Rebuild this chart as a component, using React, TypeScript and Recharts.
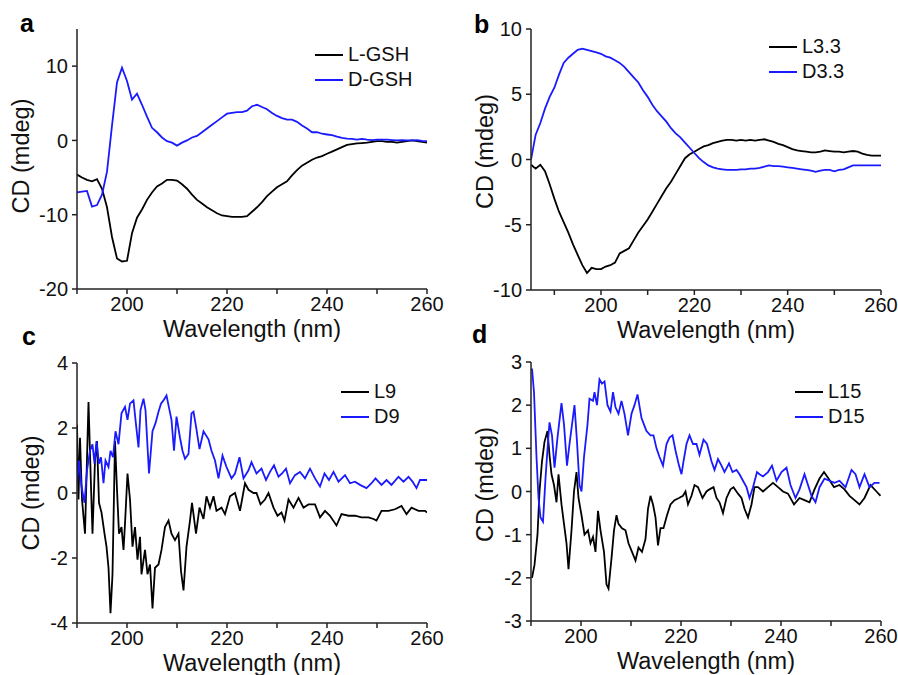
import React from 'react';
import { LineChart, Line, XAxis, YAxis, Legend } from 'recharts';

const FONT = '"Liberation Sans", Arial, Helvetica, sans-serif';
const BLACK = '#000000';
const BLUE = '#1a1aff';
const AXIS = '#222222';

// panel a: L-GSH / D-GSH, 1 nm steps 190-260
const aWave = Array.from({ length: 71 }, (_, i) => 190 + i);
const aL = [
  -4.6, -5.0, -5.3, -5.5, -5.2, -6.5, -9.0, -13.0, -15.9, -16.3,
  -16.2, -12.5, -10.4, -9.3, -8.0, -7.0, -6.2, -5.8, -5.3, -5.3,
  -5.4, -5.9, -6.5, -7.3, -8.0, -8.5, -9.0, -9.4, -9.8, -10.1,
  -10.2, -10.3, -10.3, -10.3, -10.2, -9.6, -9.0, -8.3, -7.5, -6.9,
  -6.3, -5.9, -5.5, -4.7, -4.0, -3.4, -3.0, -2.6, -2.3, -2.1,
  -1.8, -1.5, -1.2, -0.9, -0.6, -0.5, -0.4, -0.35, -0.3, -0.2,
  -0.1, -0.1, -0.2, -0.2, -0.3, -0.2, -0.1, 0, -0.1, -0.2, -0.3,
];
const aD = [
  -7.0, -6.9, -6.8, -8.9, -8.7, -7.3, -4.2, 2.0, 7.8, 9.8,
  8.0, 5.5, 6.3, 4.8, 3.2, 1.7, 1.1, 0.4, -0.1, -0.3,
  -0.7, -0.3, 0, 0.4, 0.6, 1.1, 1.6, 2.1, 2.6, 3.1,
  3.6, 3.7, 3.8, 3.8, 4.0, 4.6, 4.8, 4.5, 4.2, 3.7,
  3.3, 3.0, 2.8, 2.8, 2.5, 2.0, 1.6, 1.1, 1.1, 0.9,
  0.8, 0.7, 0.5, 0.35, 0.25, 0.2, 0.1, 0.2, 0.1, 0.05,
  0.1, 0.1, 0.1, 0.05, 0, 0.05, 0, 0, 0.05, -0.05, -0.1,
];

// panel b: L3.3 / D3.3, 1 nm steps 185-260
const bWave = Array.from({ length: 76 }, (_, i) => 185 + i);
const bL = [
  -0.4, -0.7, -0.4, -0.9, -1.9, -3.0, -4.0, -4.8, -5.6, -6.5,
  -7.3, -8.1, -8.7, -8.3, -8.4, -8.4, -8.2, -8.1, -7.9, -7.2,
  -7.0, -6.8, -6.2, -5.6, -5.1, -4.6, -4.0, -3.4, -2.8, -2.2,
  -1.7, -1.1, -0.5, 0.1, 0.4, 0.6, 0.8, 1.0, 1.1, 1.25,
  1.35, 1.45, 1.5, 1.5, 1.45, 1.5, 1.45, 1.5, 1.45, 1.5,
  1.55, 1.45, 1.35, 1.2, 1.1, 0.95, 0.8, 0.7, 0.65, 0.6,
  0.55, 0.55, 0.6, 0.7, 0.65, 0.6, 0.6, 0.55, 0.6, 0.65,
  0.6, 0.45, 0.35, 0.3, 0.3, 0.3,
];
const bD = [
  0, 1.9, 2.8, 3.9, 4.8, 5.5, 6.5, 7.4, 7.8, 8.1,
  8.4, 8.5, 8.4, 8.3, 8.2, 8.1, 7.9, 7.8, 7.6, 7.4,
  7.1, 6.7, 6.3, 5.9, 5.3, 4.8, 4.2, 3.7, 3.3, 2.9,
  2.4, 2.0, 1.7, 1.3, 0.9, 0.5, 0.1, -0.2, -0.45, -0.6,
  -0.7, -0.75, -0.8, -0.8, -0.8, -0.75, -0.75, -0.7, -0.7, -0.65,
  -0.55, -0.45, -0.5, -0.5, -0.55, -0.6, -0.65, -0.7, -0.75, -0.8,
  -0.85, -0.95, -0.85, -0.8, -0.8, -0.9, -0.8, -0.75, -0.6, -0.45,
  -0.45, -0.45, -0.45, -0.45, -0.45, -0.45,
];

// panel c: L9 / D9, [nm, mdeg]
const cL: [number, number][] = [
  [190.0, 2.1], [190.3, -0.2], [190.6, 1.7], [191.0, -0.2], [191.6, -1.25], [192.3, 2.8],
  [192.8, 0.2], [193.1, -1.25], [193.6, 1.0], [194.0, 1.6], [194.4, -0.3], [194.9, -0.6],
  [195.5, -1.25], [195.9, -1.65], [196.3, -2.3], [196.7, -3.7], [197.1, -2.5], [197.6, 1.6],
  [198.0, 0.1], [198.4, -1.25], [198.9, -1.05], [199.3, -1.75], [199.6, -0.95], [200.1, 0.6],
  [200.6, -0.2], [201.1, -1.65], [201.6, -1.05], [202.1, -2.05], [202.6, -1.35], [202.9, -2.5],
  [203.6, -1.75], [204.1, -2.5], [204.6, -2.2], [205.1, -3.55], [205.6, -2.3], [206.3, -2.2],
  [206.9, -1.75], [207.6, -1.05], [208.3, -0.85], [208.9, -1.25], [209.6, -1.45], [210.3, -1.25],
  [210.8, -2.4], [211.3, -3.0], [211.9, -1.65], [212.6, -0.85], [213.0, -0.3], [213.8, -1.25],
  [214.5, -0.45], [215.3, -0.8], [215.9, -0.1], [216.6, -0.45], [217.3, -0.1], [217.9, -0.55],
  [218.9, -0.45], [219.6, -0.65], [220.6, -0.1], [221.6, 0], [222.6, -0.55], [223.6, 0.3],
  [224.3, 0.1], [225.3, 0], [225.9, 0], [226.7, -0.35], [227.6, -0.2], [228.3, 0],
  [229.3, -0.45], [230.1, -0.7], [230.9, -0.6], [231.5, -0.85], [232.3, -0.2], [233.3, -0.45],
  [234.3, -0.15], [235.3, -0.45], [236.3, -0.35], [237.6, -0.35], [238.6, -0.75], [239.6, -0.55],
  [240.6, -0.7], [241.9, -1.0], [242.9, -0.65], [244.3, -0.7], [245.6, -0.7], [246.9, -0.75],
  [248.3, -0.75], [249.3, -0.8], [249.9, -0.85], [250.9, -0.55], [252.3, -0.55], [253.6, -0.5],
  [254.9, -0.4], [255.9, -0.65], [256.9, -0.45], [258.3, -0.55], [259.6, -0.55], [260.0, -0.6],
];
const cD: [number, number][] = [
  [190.0, 0.3], [190.4, 1.0], [190.9, 0.2], [191.5, -0.3], [192.0, 0.7], [192.6, 1.3],
  [193.1, 1.5], [193.5, 0.9], [193.9, 1.6], [194.4, 0.9], [194.8, 1.1], [195.3, 0.3],
  [195.7, 1.0], [196.3, 0.8], [196.7, 1.3], [197.2, 1.1], [197.7, 1.9], [198.3, 1.5],
  [198.9, 2.45], [199.6, 2.65], [200.1, 2.25], [200.6, 2.75], [201.3, 2.85], [201.7, 2.25],
  [202.3, 1.4], [202.7, 2.55], [203.3, 2.9], [203.7, 2.55], [204.4, 0.6], [205.1, 1.9],
  [205.7, 2.15], [206.3, 2.5], [206.8, 2.75], [207.3, 2.85], [207.9, 3.0], [208.5, 2.55],
  [208.9, 2.25], [209.4, 1.3], [209.9, 2.35], [210.6, 1.7], [211.1, 1.3], [211.6, 1.05],
  [212.3, 1.2], [212.9, 2.45], [213.3, 2.5], [213.8, 2.05], [214.5, 1.35], [215.3, 1.9],
  [216.3, 1.65], [216.9, 1.3], [217.6, 1.0], [218.3, 0.45], [219.1, 1.15], [219.9, 0.8],
  [220.9, 0.45], [221.6, 0.6], [222.5, 1.1], [223.3, 0.45], [224.3, 0.7], [224.9, 0.95],
  [225.9, 0.6], [226.9, 0.75], [227.8, 0.4], [228.6, 0.65], [229.4, 0.85], [230.3, 0.5],
  [231.0, 0.6], [231.8, 0.75], [232.6, 0.3], [233.6, 0.55], [234.6, 0.65], [235.6, 0.45],
  [236.6, 0.75], [237.6, 0.45], [238.6, 0.2], [239.5, 0.6], [240.4, 0.4], [241.3, 0.65],
  [242.3, 0.35], [243.6, 0.55], [244.6, 0.3], [245.6, 0.35], [246.6, 0.25], [247.9, 0.15],
  [248.9, 0.3], [249.7, 0.45], [250.9, 0.25], [251.9, 0.4], [252.9, 0.25], [254.3, 0.5],
  [255.3, 0.35], [256.3, 0.5], [257.1, 0.35], [257.9, 0.15], [258.6, 0.4], [259.6, 0.4],
  [260.0, 0.4],
];

// panel d: L15 / D15, [nm, mdeg]
const dL: [number, number][] = [
  [190.2, -2.0], [190.7, -1.7], [191.3, -1.0], [191.7, 0], [192.2, 0.7], [192.7, 1.15],
  [193.3, 1.4], [193.7, 0.85], [194.1, 0.4], [194.6, 0.15], [195.1, -0.25], [195.5, 0.4],
  [196.1, -0.3], [196.6, -0.75], [197.1, -1.2], [197.5, -1.8], [198.1, -0.9], [198.6, 0],
  [199.1, 0.45], [199.5, -0.15], [200.1, -0.55], [200.7, -1.0], [201.4, -0.9], [201.9, -1.2],
  [202.4, -1.05], [202.9, -1.4], [203.4, -0.45], [203.9, -0.9], [204.6, -1.4], [205.1, -2.15],
  [205.5, -2.25], [206.1, -1.55], [206.6, -0.9], [207.1, -0.55], [207.5, -0.75], [208.2, -0.85],
  [208.9, -0.9], [209.5, -1.2], [210.2, -1.4], [210.9, -1.6], [211.5, -1.3], [212.2, -1.4],
  [212.9, -1.1], [213.4, -0.4], [213.9, -0.1], [214.4, -0.3], [214.9, -0.6], [215.4, -1.25],
  [215.9, -0.85], [216.5, -0.85], [217.2, -0.55], [217.9, -0.3], [218.7, -0.2], [219.6, -0.15],
  [220.4, -0.1], [220.9, 0], [221.4, -0.3], [222.1, -0.1], [222.7, 0.15], [223.4, 0.1],
  [224.3, -0.15], [225.1, 0], [225.7, 0.05], [226.5, 0.1], [227.1, -0.15], [227.7, -0.25],
  [228.4, -0.5], [229.1, -0.15], [229.9, 0.05], [230.5, 0.1], [231.4, -0.05], [232.1, -0.15],
  [232.7, -0.4], [233.4, -0.6], [234.1, -0.3], [234.7, 0.1], [235.4, 0.1], [236.4, 0],
  [237.4, 0.1], [238.4, 0.2], [239.4, 0.1], [240.4, 0], [241.4, -0.05], [242.6, -0.3],
  [243.7, -0.15], [244.7, -0.2], [245.7, -0.25], [246.7, 0.05], [247.7, 0.3], [248.6, 0.45],
  [249.5, 0.3], [250.6, 0.1], [251.7, 0.15], [252.7, 0.05], [253.7, -0.1], [254.7, -0.2],
  [255.7, -0.3], [256.7, -0.15], [257.9, 0.15], [259.1, 0], [259.9, -0.1],
];
const dD: [number, number][] = [
  [190.2, 2.85], [190.6, 2.3], [191.1, 0.8], [191.5, -0.15], [191.9, -0.6], [192.4, -0.7],
  [192.9, 0.3], [193.4, 1.15], [193.7, 1.6], [194.2, 1.3], [194.7, 0.55], [195.3, 1.25],
  [196.1, 2.05], [196.6, 1.55], [197.2, 0.6], [197.7, 1.1], [198.7, 2.0], [199.2, 1.15],
  [199.7, 0.15], [200.1, 0], [200.6, 0.8], [201.3, 1.55], [201.7, 2.15], [202.4, 2.1],
  [202.7, 2.3], [203.2, 2.0], [203.7, 2.6], [204.2, 2.5], [204.7, 2.55], [205.3, 2.0],
  [205.9, 1.85], [206.4, 2.3], [206.9, 1.95], [207.5, 1.8], [208.1, 2.1], [208.7, 1.8],
  [209.4, 1.3], [210.1, 1.8], [210.7, 2.0], [211.3, 2.25], [212.1, 1.7], [212.6, 1.55],
  [213.1, 1.4], [213.9, 1.3], [214.5, 1.3], [215.1, 1.0], [215.7, 0.8], [216.4, 0.6],
  [217.1, 1.1], [217.7, 1.25], [218.3, 1.3], [218.9, 0.95], [219.6, 0.6], [220.1, 0.4],
  [220.5, 0.7], [221.1, 1.1], [221.7, 1.3], [222.4, 1.1], [223.1, 1.1], [223.7, 0.85],
  [224.5, 1.2], [225.2, 1.1], [226.1, 0.7], [226.7, 0.5], [227.4, 0.75], [228.1, 0.6],
  [228.7, 0.45], [229.6, 0.65], [230.3, 0.45], [231.1, 0.5], [231.7, 0.4], [232.4, 0.25],
  [233.1, 0.1], [233.7, -0.15], [234.4, 0.1], [235.2, 0.45], [235.7, 0.4], [236.4, 0.35],
  [237.4, 0.45], [238.2, 0.6], [239.1, 0.25], [240.1, 0.45], [241.1, 0.55], [241.9, 0.15],
  [242.9, -0.15], [243.7, 0.05], [244.7, 0.4], [245.4, 0.15], [246.1, -0.1], [246.9, -0.25],
  [247.7, 0.1], [248.7, 0.3], [249.7, 0.25], [250.7, 0.2], [251.7, 0.25], [252.9, 0.1],
  [254.1, 0.5], [254.9, 0.4], [255.7, 0.1], [256.7, 0.4], [257.7, 0.1], [258.7, 0.2],
  [259.7, 0.2],
];

type Pt = { x: number; y: number };
const fromGrid = (xs: number[], ys: number[]): Pt[] => xs.map((x, i) => ({ x, y: ys[i] }));
const fromPairs = (p: [number, number][]): Pt[] => p.map(([x, y]) => ({ x, y }));

interface Series {
  name: string;
  color: string;
  data: Pt[];
}

interface PanelProps {
  letter: string;
  left: number;
  top: number;
  height: number;
  margin: { top: number; right: number; bottom: number; left: number };
  yAxisWidth: number;
  xDomain: [number, number];
  xTicks: number[];
  yDomain: [number, number];
  yTicks: number[];
  yLabelOffset: number;
  yLabelDy: number;
  legendLeft: number;
  legendTop: number;
  letterPos: { left: number; top: number };
  series: Series[];
}

// legend rows in the order the series are listed (Recharts sorts by name otherwise)
const makeLegend = (order: string[]) => (props: any) => {
  const payload: any[] = props.payload || [];
  const rows = order
    .map((name) => payload.find((e) => e.value === name))
    .filter(Boolean);
  return (
    <div style={{ fontFamily: FONT }}>
      {rows.map((entry: any) => (
        <div key={entry.value} style={{ display: 'flex', alignItems: 'center', height: 25 }}>
          <svg width={28} height={4}>
            <line x1={0} y1={2} x2={28} y2={2} stroke={entry.color} strokeWidth={2} />
          </svg>
          <span style={{ marginLeft: 5, fontSize: 20, lineHeight: '25px', color: '#111' }}>{entry.value}</span>
        </div>
      ))}
    </div>
  );
};

const Panel: React.FC<PanelProps> = (p) => {
  return (
    <div style={{ position: 'absolute', left: p.left, top: p.top }}>
      <LineChart width={449} height={p.height} margin={p.margin}>
        <XAxis
          dataKey="x"
          type="number"
          domain={p.xDomain}
          ticks={p.xTicks}
          interval={0}
          allowDataOverflow
          tickFormatter={(v: number) => (v % 20 === 0 ? String(v) : '')}
          tickSize={5}
          tickMargin={3}
          height={50}
          stroke={AXIS}
          strokeWidth={1.5}
          tick={{ fill: '#111', fontSize: 20 }}
          label={{ value: 'Wavelength (nm)', position: 'insideTop', offset: 31, style: { fontSize: 23.5, fill: '#111' } }}
        />
        <XAxis
          xAxisId="top"
          orientation="top"
          type="number"
          domain={p.xDomain}
          allowDataOverflow
          height={0}
          tick={false}
          tickLine={false}
          stroke={AXIS}
          strokeWidth={1.5}
        />
        <YAxis
          type="number"
          domain={p.yDomain}
          ticks={p.yTicks}
          interval={0}
          allowDataOverflow
          width={p.yAxisWidth}
          tickSize={5}
          tickMargin={4}
          stroke={AXIS}
          strokeWidth={1.5}
          tick={{ fill: '#111', fontSize: 20 }}
          label={{
            value: 'CD (mdeg)',
            angle: -90,
            position: 'insideLeft',
            offset: p.yLabelOffset,
            dy: p.yLabelDy,
            style: { textAnchor: 'middle', fontSize: 23.5, fill: '#111' },
          }}
        />
        <YAxis
          yAxisId="right"
          orientation="right"
          type="number"
          domain={p.yDomain}
          allowDataOverflow
          width={0}
          tick={false}
          tickLine={false}
          stroke={AXIS}
          strokeWidth={1.5}
        />
        <Legend
          content={makeLegend(p.series.map((s) => s.name))}
          layout="vertical"
          align="center"
          verticalAlign="middle"
          wrapperStyle={{ left: p.legendLeft, top: p.legendTop, width: 'auto' }}
        />
        {p.series.map((s) => (
          <Line
            key={s.name}
            data={s.data}
            dataKey="y"
            name={s.name}
            type="linear"
            stroke={s.color}
            strokeWidth={1.8}
            dot={false}
            activeDot={false}
            isAnimationActive={false}
          />
        ))}
      </LineChart>
      <div
        style={{
          position: 'absolute',
          left: p.letterPos.left,
          top: p.letterPos.top,
          fontSize: 25,
          lineHeight: '25px',
          fontWeight: 'bold',
          color: '#000',
        }}
      >
        {p.letter}
      </div>
    </div>
  );
};

const tens190 = [190, 200, 210, 220, 230, 240, 250, 260];

export default function App() {
  return (
    <div
      style={{
        position: 'absolute',
        left: 0,
        top: 0,
        width: 898,
        height: 675,
        background: '#fff',
        fontFamily: FONT,
        overflow: 'hidden',
      }}
    >
      <Panel
        letter="a"
        left={0}
        top={0}
        height={350}
        margin={{ top: 29, right: 22, bottom: 11, left: 0 }}
        yAxisWidth={77}
        xDomain={[190, 260]}
        xTicks={tens190}
        yDomain={[-20, 15]}
        yTicks={[-20, -10, 0, 10]}
        yLabelOffset={21}
        yLabelDy={-3}
        legendLeft={315}
        legendTop={42}
        letterPos={{ left: 20, top: 11 }}
        series={[
          { name: 'L-GSH', color: BLACK, data: fromGrid(aWave, aL) },
          { name: 'D-GSH', color: BLUE, data: fromGrid(aWave, aD) },
        ]}
      />
      <Panel
        letter="b"
        left={449}
        top={0}
        height={350}
        margin={{ top: 29, right: 17, bottom: 10, left: 0 }}
        yAxisWidth={82}
        xDomain={[185, 260]}
        xTicks={tens190}
        yDomain={[-10, 10]}
        yTicks={[-10, -5, 0, 5, 10]}
        yLabelOffset={36}
        yLabelDy={-8}
        legendLeft={320}
        legendTop={34}
        letterPos={{ left: 25, top: 12 }}
        series={[
          { name: 'L3.3', color: BLACK, data: fromGrid(bWave, bL) },
          { name: 'D3.3', color: BLUE, data: fromGrid(bWave, bD) },
        ]}
      />
      <Panel
        letter="c"
        left={0}
        top={330}
        height={345}
        margin={{ top: 33, right: 22, bottom: 2, left: 0 }}
        yAxisWidth={77}
        xDomain={[190, 260]}
        xTicks={tens190}
        yDomain={[-4, 4]}
        yTicks={[-4, -2, 0, 2, 4]}
        yLabelOffset={31}
        yLabelDy={0}
        legendLeft={341}
        legendTop={49}
        letterPos={{ left: 22, top: -6 }}
        series={[
          { name: 'L9', color: BLACK, data: fromPairs(cL) },
          { name: 'D9', color: BLUE, data: fromPairs(cD) },
        ]}
      />
      <Panel
        letter="d"
        left={449}
        top={330}
        height={345}
        margin={{ top: 32, right: 17, bottom: 4, left: 0 }}
        yAxisWidth={82}
        xDomain={[190, 260]}
        xTicks={tens190}
        yDomain={[-3, 3]}
        yTicks={[-3, -2, -1, 0, 1, 2, 3]}
        yLabelOffset={36}
        yLabelDy={-7}
        legendLeft={346}
        legendTop={49}
        letterPos={{ left: 23, top: -8 }}
        series={[
          { name: 'L15', color: BLACK, data: fromPairs(dL) },
          { name: 'D15', color: BLUE, data: fromPairs(dD) },
        ]}
      />
    </div>
  );
}
